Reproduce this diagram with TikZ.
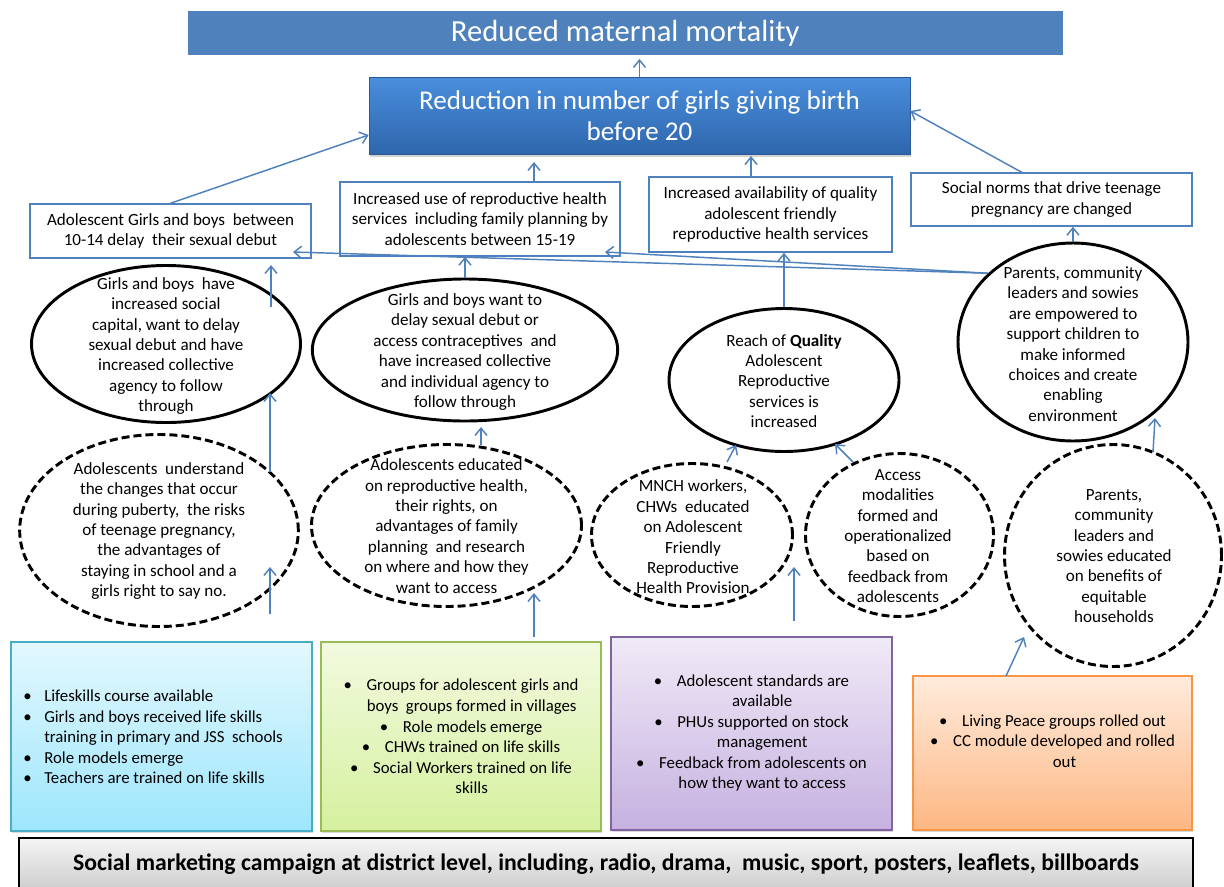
\documentclass[tikz,border=0pt]{standalone}
\usepackage{fontspec}
\setmainfont{Carlito}
\usetikzlibrary{arrows.meta,shapes.geometric,shadows,calc}
\definecolor{arrowblue}{HTML}{4F81BD}
\definecolor{topblue}{HTML}{4F81BD}
\definecolor{btop}{HTML}{4A8EDC}
\definecolor{bbot}{HTML}{2E66AC}
\definecolor{bdraw}{HTML}{2A5A96}
\definecolor{gonet}{HTML}{E3F8FE}
\definecolor{goneb}{HTML}{9DE6FC}
\definecolor{goned}{HTML}{4BACC6}
\definecolor{gtwot}{HTML}{F2FADF}
\definecolor{gtwob}{HTML}{D5F09E}
\definecolor{gtwod}{HTML}{9BBB59}
\definecolor{gthrt}{HTML}{F0EAF7}
\definecolor{gthrb}{HTML}{C6B1E0}
\definecolor{gthrd}{HTML}{8064A2}
\definecolor{gfourt}{HTML}{FFEBDC}
\definecolor{gfourb}{HTML}{FDB783}
\definecolor{gfourd}{HTML}{F79646}
\definecolor{bart}{HTML}{F5F5F5}
\definecolor{barb}{HTML}{CDCDCD}
\begin{document}
\begin{tikzpicture}[x=0.75pt,y=-0.75pt,
  arr/.style={draw=arrowblue,line width=1.1pt,-{Straight Barb[length=5.5pt,width=9pt]}},
  outbox/.style={draw=arrowblue,line width=1.1pt,fill=white,inner sep=0pt,
     font=\fontsize{12.8}{15.1}\selectfont,align=center},
  solidell/.style={ellipse,draw=black,line width=2.2pt,inner sep=0pt},
  dashell/.style={ellipse,draw=black,line width=2.2pt,dash pattern=on 6pt off 3pt,inner sep=0pt},
  etext/.style={inner sep=0pt,align=center,font=\fontsize{12.8}{15.3}\selectfont},
  actbox/.style={line width=0.9pt,inner sep=0pt,
     drop shadow={shadow xshift=1pt,shadow yshift=-1.5pt,opacity=0.3}},
  btext/.style={inner sep=0pt,font=\fontsize{12.6}{15.4}\selectfont}
]
\useasboundingbox (0,0) rectangle (1224,886);

% ---------- top goals ----------
\node[draw=white,line width=3pt,fill=topblue,minimum width=659.6pt,minimum height=36pt,
  inner sep=0pt,drop shadow={shadow xshift=0.6pt,shadow yshift=-1.6pt,opacity=0.35},
  text=white,font=\fontsize{23}{27}\selectfont] (top) at (625.25,33) {Reduced maternal mortality};

\node[draw=bdraw,line width=0.6pt,top color=btop,bottom color=bbot,
  minimum width=405.75pt,minimum height=57.75pt,inner sep=0pt,
  drop shadow={shadow xshift=1pt,shadow yshift=-2pt,opacity=0.35},
  text=white,align=center,font=\fontsize{20.3}{23.5}\selectfont] (box2) at (639.5,115.5)
  {Reduction in number of girls giving birth\\before 20};

% ---------- outcome boxes ----------
\node[outbox,minimum width=210.75pt,minimum height=40.5pt] (A) at (170.5,231)
  {Adolescent Girls and boys\ \ between\\10-14 delay\ \ their sexual debut};
\node[outbox,minimum width=210pt,minimum height=55.5pt] (B) at (480,219)
  {Increased use of reproductive health\\services\ \ including family planning by\\adolescents between 15-19};
\node[outbox,minimum width=182.25pt,minimum height=56.25pt] (C) at (770.5,214.5)
  {Increased availability of quality\\adolescent friendly\\reproductive health services};
\node[outbox,minimum width=210.75pt,minimum height=39.75pt] (D) at (1051.5,199.5)
  {Social norms that drive teenage\\pregnancy are changed};

% ---------- solid ellipses ----------
\node[solidell,minimum width=201.75pt,minimum height=117.75pt] (E1) at (166,344) {};
\node[etext] (E1t) at (166,346) {Girls and boys\ \ have\\increased social\\capital, want to delay\\sexual debut and have\\increased collective\\agency to follow\\through};
\node[solidell,minimum width=229pt,minimum height=106.5pt] (E2) at (465,350) {};
\node[etext] (E2t) at (465,352) {Girls and boys want to\\delay sexual debut or\\access contraceptives\ \ and\\have increased collective\\and individual agency to\\follow through};
\node[solidell,minimum width=172.5pt,minimum height=107.25pt] (E3) at (784,380) {};
\node[etext] (E3t) at (784,381) {Reach of \textbf{Quality}\\Adolescent\\Reproductive\\services is\\increased};
\node[solidell,minimum width=172.5pt,minimum height=148.5pt] (E4) at (1073,342) {};
\node[etext] (E4t) at (1073,344) {Parents, community\\leaders and sowies\\are empowered to\\support children to\\make informed\\choices and create\\enabling\\environment};

% ---------- dashed ellipses ----------
\node[dashell,minimum width=209pt,minimum height=144pt] (F1) at (159,530.5) {};
\node[etext] (F1t) at (159,531) {Adolescents\ \ understand\\the changes that occur\\during puberty,\ \ the risks\\of teenage pregnancy,\\the advantages of\\staying in school and a\\girls right to say no.};
\node[dashell,minimum width=202.5pt,minimum height=121.5pt] (F2) at (446.5,525.5) {};
\node[etext] (F2t) at (446.5,526) {Adolescents educated\\on reproductive health,\\their rights, on\\advantages of family\\planning\ \ and research\\on where and how they\\want to access};
\node[dashell,minimum width=150.75pt,minimum height=107.25pt] (F3) at (692,535) {};
\node[etext] (F3t) at (693,537) {MNCH workers,\\CHWs\ \ educated\\on Adolescent\\Friendly\\Reproductive\\Health Provision};
\node[dashell,minimum width=141pt,minimum height=122.25pt] (F4) at (899.5,535) {};
\node[etext] (F4t) at (898,536) {Access\\modalities\\formed and\\operationalized\\based on\\feedback from\\adolescents};
\node[dashell,minimum width=162.75pt,minimum height=166.5pt] (F5) at (1113,555.5) {};
\node[etext] (F5t) at (1114,556) {Parents,\\community\\leaders and\\sowies educated\\on benefits of\\equitable\\households};

% ---------- activity boxes ----------
\node[actbox,draw=goned,top color=gonet,bottom color=goneb,minimum width=225.75pt,minimum height=141.75pt] (G1) at (161.5,736.5) {};
\node[btext,anchor=west,align=left] (G1t) at (23,737)
  {\makebox[15.75pt][l]{•}Lifeskills course available\\
   \makebox[15.75pt][l]{•}Girls and boys received life skills\\
   \hspace*{15.75pt}training in primary and JSS\ \ schools\\
   \makebox[15.75pt][l]{•}Role models emerge\\
   \makebox[15.75pt][l]{•}Teachers are trained on life skills};

\node[actbox,draw=gtwod,top color=gtwot,bottom color=gtwob,minimum width=210pt,minimum height=141.75pt] (G2) at (461,736.5) {};
\node[btext,align=center] (G2t) at (461,736.5)
  {•\hspace{11pt}Groups for adolescent girls and\\
   \hspace*{16pt}boys\ \ groups formed in villages\\
   •\hspace{11pt}Role models emerge\\
   •\hspace{11pt}CHWs trained on life skills\\
   •\hspace{11pt}Social Workers trained on life\\
   \hspace*{16pt}skills};

\node[actbox,draw=gthrd,top color=gthrt,bottom color=gthrb,minimum width=210.75pt,minimum height=144.75pt] (G3) at (751.5,733.5) {};
\node[btext,align=center] (G3t) at (751.5,733)
  {•\hspace{11pt}Adolescent standards are\\
   \hspace*{16pt}available\\
   •\hspace{11pt}PHUs supported on stock\\
   \hspace*{16pt}management\\
   •\hspace{11pt}Feedback from adolescents on\\
   \hspace*{16pt}how they want to access};

\node[actbox,draw=gfourd,top color=gfourt,bottom color=gfourb,minimum width=209.25pt,minimum height=115.5pt] (G4) at (1052.5,753) {};
\node[btext,align=center] (G4t) at (1052.5,741)
  {•\hspace{11pt}Living Peace groups rolled out\\
   •\hspace{11pt}CC module developed and rolled\\
   \hspace*{18pt}out};

% ---------- bottom bar ----------
\node[draw=black,line width=0.9pt,top color=bart,bottom color=barb,minimum width=880.5pt,minimum height=39pt,
  inner sep=0pt,font=\fontsize{17.8}{20}\selectfont\bfseries] (H) at (606,864)
  {Social marketing campaign at district level, including, radio, drama,\ \ music, sport, posters, leaflets, billboards};

% ---------- free arrow ends ----------
\coordinate (bx) at (534,162);
\coordinate (cx) at (751,156);
\coordinate (dx) at (1023,173);
\coordinate (e1s) at (271,307);
\coordinate (e1e) at (271,265);
\coordinate (pA) at (293,252);
\coordinate (pB) at (605,252);
\coordinate (f1s) at (270,472);
\coordinate (f1e) at (270,393);
\coordinate (g1s) at (270,614);
\coordinate (g1e) at (270,567);
\coordinate (f2s) at (481,445);
\coordinate (f2e) at (481,427);
\coordinate (g2s) at (534,637);
\coordinate (g2e) at (534,593);
\coordinate (f3s) at (727,462);
\coordinate (f3e) at (736,445);
\coordinate (f4s) at (853,462);
\coordinate (f4e) at (835,444);
\coordinate (g3s) at (794,621);
\coordinate (g3e) at (794,567);
\coordinate (f5s) at (1153,452);
\coordinate (f5e) at (1155,418);
\coordinate (g4s) at (1006,676);
\coordinate (g4e) at (1024,637);

% ---------- connectors ----------
\draw[arr] (box2.north) -- (box2.north |- top.south);
\draw[arr] (A.north) -- ($(box2.west)+(0,19.5)$);
\draw[arr] (B.north -| bx) -- (bx);
\draw[arr] (C.north -| cx) -- (cx);
\draw[arr] (dx) -- ($(box2.east)+(0,-4.5)$);
\draw[arr] (e1s) -- (e1e);
\draw[arr] (E2.north) -- (B.south -| E2.north);
\draw[arr] (E3.north) -- (C.south -| E3.north);
\draw[arr] (E4.north) -- (D.south -| E4.north);
\draw[arr] (E4.141) -- (pA);
\draw[arr] (E4.141) -- (pB);
\draw[arr] (f1s) -- (f1e);
\draw[arr] (g1s) -- (g1e);
\draw[arr] (f2s) -- (f2e);
\draw[arr] (g2s) -- (g2e);
\draw[arr] (f3s) -- (f3e);
\draw[arr] (f4s) -- (f4e);
\draw[arr] (g3s) -- (g3e);
\draw[arr] (f5s) -- (f5e);
\draw[arr] (g4s) -- (g4e);
\end{tikzpicture}
\end{document}
